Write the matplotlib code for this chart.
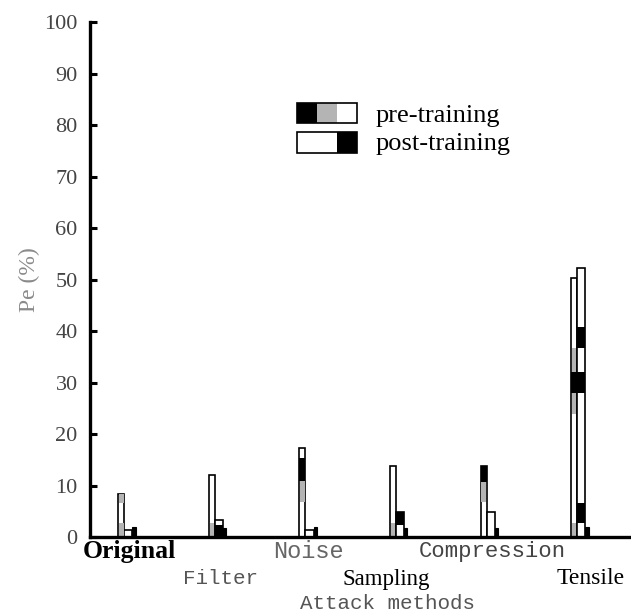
import numpy as np
import matplotlib
matplotlib.use("Agg")
import matplotlib.pyplot as plt
from matplotlib.patches import Rectangle

# data
methods = ["Original", "Filter", "Noise", "Sampling", "Compression", "Tensile"]
pre_training = [8.3, 12.0, 17.3, 13.8, 13.8, 50.3]
post_training = [1.5, 3.3, 1.5, 4.9, 4.9, 52.2]
residual = [2.0, 1.8, 2.0, 1.8, 1.8, 2.0]

# shaded bands inside the bars: (group, low, high)
pre_grey_bands = [(0, 6.6, 8.3), (0, 0, 2.7), (1, 0, 2.7), (2, 6.8, 11.0),
                  (3, 0, 2.7), (4, 6.8, 10.7), (5, 32.0, 36.7),
                  (5, 24.0, 28.0), (5, 0, 2.7)]
pre_black_bands = [(2, 11.0, 15.3), (4, 10.7, 13.8), (5, 28.0, 32.0)]
post_black_bands = [(1, 0, 2.3), (3, 2.3, 4.9), (5, 36.7, 40.8),
                    (5, 28.0, 32.0), (5, 2.7, 6.6)]

yticks = [0, 10, 20, 30, 40, 50, 60, 70, 80, 90, 100]

x = np.arange(len(methods))
w_pre = 0.066
w_post = 0.09
w_res = 0.035
grey = "#b4b4b4"

fig = plt.figure(figsize=(6.31, 6.14), dpi=100)
ax = fig.add_axes([0.143, 0.125, 0.857, 0.839])

# white outlined bars
ax.bar(x, pre_training, width=w_pre, align="edge", color="white",
       edgecolor="black", linewidth=1.2, zorder=2)
ax.bar(x + w_pre, post_training, width=w_post, align="edge", color="white",
       edgecolor="black", linewidth=1.2, zorder=2)
ax.bar(x + w_pre + w_post, residual, width=w_res, align="edge", color="black",
       edgecolor="black", linewidth=0.8, zorder=2)

# bands
for g, lo, hi in pre_grey_bands:
    ax.bar(g + 0.008, hi - lo, bottom=lo, width=w_pre - 0.016, align="edge",
           color=grey, linewidth=0, zorder=3)
for g, lo, hi in pre_black_bands:
    ax.bar(g, hi - lo, bottom=lo, width=w_pre, align="edge",
           color="black", linewidth=0, zorder=3)
for g, lo, hi in post_black_bands:
    ax.bar(g + w_pre, hi - lo, bottom=lo, width=w_post, align="edge",
           color="black", linewidth=0, zorder=3)

ax.set_xlim(-0.31, 5.66)
ax.set_ylim(0, 100)

for s in ["top", "right"]:
    ax.spines[s].set_visible(False)
for s in ["left", "bottom"]:
    ax.spines[s].set_linewidth(2.4)
ax.spines["bottom"].set_zorder(5)

ax.set_yticks(yticks)
ax.set_yticklabels([str(t) for t in yticks], fontsize=16,
                   family="Liberation Serif", color="#444444")
ax.tick_params(axis="y", direction="in", length=5, width=2.2, pad=9)
ax.set_xticks([])
ax.set_ylabel("Pe (%)", fontsize=17, family="Liberation Serif",
              color="#8a8a8a", labelpad=3)

# staggered category labels
label_x = [0.12, 1.13, 2.10, 2.96, 4.13, 5.21]
label_y = [-0.028, -0.08, -0.028, -0.082, -0.028, -0.08]
label_font = ["Liberation Serif", "Liberation Mono", "Liberation Mono",
              "Liberation Serif", "Liberation Mono", "Liberation Serif"]
label_size = [18.5, 15, 17, 16.5, 16, 17]
label_color = ["black", "#555555", "#666666", "black", "#444444", "black"]
label_weight = ["bold", "normal", "normal", "normal", "normal", "normal"]
trans = ax.get_xaxis_transform()
for i, name in enumerate(methods):
    ax.text(label_x[i], label_y[i], name, transform=trans, ha="center",
            va="center", fontsize=label_size[i], family=label_font[i],
            color=label_color[i], fontweight=label_weight[i])
ax.text(0.55, -0.128, "Attack methods", transform=ax.transAxes, ha="center",
        va="center", fontsize=15, family="Liberation Mono", color="#555555")

# legend drawn by hand
lx, lw = 0.383, 0.037
ax.add_patch(Rectangle((lx, 0.804), lw, 0.039, transform=ax.transAxes,
                       facecolor="black", edgecolor="none"))
ax.add_patch(Rectangle((lx + lw, 0.804), lw, 0.039, transform=ax.transAxes,
                       facecolor=grey, edgecolor="none"))
ax.add_patch(Rectangle((lx, 0.804), 3 * lw, 0.039, transform=ax.transAxes,
                       facecolor="none", edgecolor="black", linewidth=1.2))
ax.add_patch(Rectangle((lx + 2 * lw, 0.746), lw, 0.04, transform=ax.transAxes,
                       facecolor="black", edgecolor="none"))
ax.add_patch(Rectangle((lx, 0.746), 3 * lw, 0.04, transform=ax.transAxes,
                       facecolor="none", edgecolor="black", linewidth=1.2))
ax.text(0.527, 0.818, "pre-training", transform=ax.transAxes, va="center",
        fontsize=19, family="Liberation Serif")
ax.text(0.527, 0.763, "post-training", transform=ax.transAxes, va="center",
        fontsize=19, family="Liberation Serif")

plt.savefig("out.png", dpi=100)
